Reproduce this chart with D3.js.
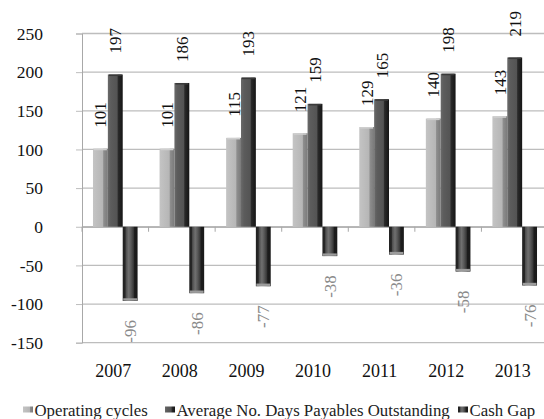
<!DOCTYPE html>
<html>
<head>
<meta charset="utf-8">
<script src="https://cdn.jsdelivr.net/npm/d3@7"></script>
<style>
  html, body { margin: 0; padding: 0; background: #fff; }
  svg { display: block; }
  text { font-family: "Liberation Serif", "DejaVu Serif", serif; }
</style>
</head>
<body>
<script>
// Working-capital cycle figures by year (days)
const years = ["2007", "2008", "2009", "2010", "2011", "2012", "2013"];
const seriesNames = ["Operating cycles", "Average No. Days Payables Outstanding", "Cash Gap"];
const operatingCycles = [101, 101, 115, 121, 129, 140, 143];
const payablesDays = [197, 186, 193, 159, 165, 198, 219];
const cashGap = [-96, -86, -77, -38, -36, -58, -76];
const yTicks = [-150, -100, -50, 0, 50, 100, 150, 200, 250];

const W = 544, H = 419;
const svg = d3.select("body").append("svg").attr("width", W).attr("height", H)
  .attr("font-family", "Liberation Serif, DejaVu Serif, serif");

const defs = svg.append("defs");
function hGrad(id, stops) {
  const g = defs.append("linearGradient").attr("id", id)
    .attr("x1", "0%").attr("x2", "100%").attr("y1", "0%").attr("y2", "0%");
  stops.forEach(s => g.append("stop").attr("offset", s[0]).attr("stop-color", s[1]));
}
hGrad("g0", [["0%", "#c4c4c4"], ["65%", "#b6b6b6"], ["72%", "#8e8e8e"], ["100%", "#7a7a7a"]]);
hGrad("g1", [["0%", "#6a6a6a"], ["20%", "#5c5c5c"], ["62%", "#545454"], ["70%", "#2a2a2a"], ["100%", "#151515"]]);
hGrad("g2", [["0%", "#222"], ["16%", "#262626"], ["22%", "#4e4e4e"], ["40%", "#707070"], ["55%", "#5a5a5a"], ["72%", "#3a3a3a"], ["80%", "#1c1c1c"], ["100%", "#1a1a1a"]]);
const fills = ["url(#g0)", "url(#g1)", "url(#g2)"];

const plotLeft = 82, plotRight = 548, plotTop = 33.5, plotBottom = 342.7;

const x0 = d3.scaleBand().domain(years).range([plotLeft, plotRight])
  .paddingInner(0.33).paddingOuter(0.165);
const x1 = d3.scaleBand().domain(seriesNames).range([0, x0.bandwidth()]);
const y = d3.scaleLinear().domain([-150, 250]).range([plotBottom, plotTop]);

// horizontal gridlines
svg.append("g").selectAll("line").data(yTicks).join("line")
  .attr("x1", plotLeft).attr("x2", W).attr("y1", d => y(d)).attr("y2", d => y(d))
  .attr("stroke", "#bdbdbd").attr("stroke-width", 1.3);

// value axis
const yAxis = d3.axisLeft(y).tickValues(yTicks).tickSize(6).tickPadding(33)
  .tickFormat(d => String(d));
const gy = svg.append("g").attr("transform", `translate(${plotLeft},0)`).call(yAxis)
  .attr("font-family", null);
gy.select(".domain").attr("stroke", "#a8a8a8");
gy.selectAll(".tick line").attr("stroke", "#bdbdbd");
gy.selectAll(".tick text").attr("font-size", 17.5).attr("fill", "#111");

// category axis along zero
const xAxis = d3.axisBottom(x0).tickSize(5).tickSizeOuter(0).tickFormat("");
const gx = svg.append("g").attr("transform", `translate(0,${y(0)})`).call(xAxis);
gx.select(".domain").attr("stroke", "#a8a8a8");
gx.selectAll(".tick line").attr("stroke", "#a8a8a8")
  .attr("transform", `translate(${-x0.step() / 2},0)`);

// year labels below plot
svg.append("g").selectAll("text").data(years).join("text")
  .attr("x", d => x0(d) + x0.bandwidth() / 2 - 2)
  .attr("y", 377)
  .attr("text-anchor", "middle")
  .attr("font-size", 18)
  .attr("fill", "#111")
  .text(d => d);

const rows = years.map((yr, i) => ({
  year: yr,
  vals: [operatingCycles[i], payablesDays[i], cashGap[i]]
}));

const groups = svg.append("g").selectAll("g").data(rows).join("g")
  .attr("transform", d => `translate(${x0(d.year)},0)`);

groups.selectAll("rect.bar").data(d => d.vals.map((v, k) => ({ v, k }))).join("rect")
  .attr("class", "bar")
  .attr("x", d => x1(seriesNames[d.k]))
  .attr("width", x1.bandwidth())
  .attr("y", d => y(Math.max(0, d.v)))
  .attr("height", d => Math.abs(y(d.v) - y(0)))
  .attr("fill", d => fills[d.k]);

// bevelled tops on the positive bars
groups.selectAll("line.cap").data(d => d.vals.slice(0, 2).map((v, k) => ({ v, k }))).join("line")
  .attr("class", "cap")
  .attr("x1", d => x1(seriesNames[d.k]) + 1)
  .attr("x2", d => x1(seriesNames[d.k]) + x1.bandwidth() - 1)
  .attr("y1", d => y(d.v) + 0.8).attr("y2", d => y(d.v) + 0.8)
  .attr("stroke", d => d.k === 0 ? "#cfcfcf" : "#3a3a3a").attr("stroke-width", 1.6);

// light rim at the outer end of the cash gap bars
groups.selectAll("line.rim").data(d => [d.vals[2]]).join("line").attr("class", "rim")
  .attr("x1", x1(seriesNames[2]) + 0.5).attr("x2", x1(seriesNames[2]) + x1.bandwidth() - 0.5)
  .attr("y1", d => y(d) - 1.5).attr("y2", d => y(d) - 1.5)
  .attr("stroke", "#9c9c9c").attr("stroke-width", 2.4);

// value labels, rotated
groups.selectAll("text").data(d => d.vals.map((v, k) => ({ v, k }))).join("text")
  .attr("transform", d => {
    const cx = x1(seriesNames[d.k]) + x1.bandwidth() / 2;
    const cy = d.v >= 0 ? y(d.v) - 21 : y(d.v) + 19;
    return `translate(${cx},${cy}) rotate(-90)`;
  })
  .attr("dy", "0.35em")
  .attr("text-anchor", d => d.v >= 0 ? "start" : "end")
  .attr("font-size", 17)
  .attr("fill", d => d.v >= 0 ? "#111" : "#8a8a8a")
  .text(d => String(d.v));

// legend
const legendX = [23, 165, 458];
const lg = svg.append("g").selectAll("g").data(seriesNames).join("g")
  .attr("transform", (d, i) => `translate(${legendX[i]},410)`);
lg.append("rect").attr("x", 0).attr("y", -3.5).attr("width", 10).attr("height", 6)
  .attr("fill", (d, i) => fills[i]);
lg.append("text").attr("x", 11.5).attr("y", 0).attr("dy", "0.35em")
  .attr("font-size", 16.8).attr("fill", "#222").text(d => d);
</script>
</body>
</html>
